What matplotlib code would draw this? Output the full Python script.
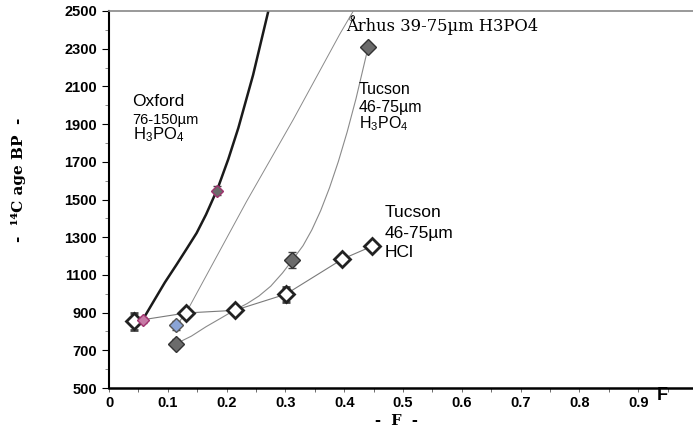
import matplotlib.pyplot as plt
from matplotlib.ticker import MultipleLocator

plt.rcParams['font.family'] = ['Liberation Sans', 'DejaVu Sans']
plt.rcParams['mathtext.default'] = 'regular'

# curves
oxford_cx = [0.057, 0.075, 0.095, 0.115, 0.132, 0.149, 0.165, 0.185, 0.203, 0.22, 0.245, 0.271]
oxford_cy = [860, 955, 1060, 1155, 1238, 1322, 1420, 1560, 1715, 1880, 2160, 2500]

aarhus_cx = [0.114, 0.131, 0.234, 0.313, 0.393, 0.4155]
aarhus_cy = [830, 898, 1490, 1922, 2380, 2500]

h3po4_cx = [0.114, 0.14, 0.165, 0.19, 0.214, 0.235, 0.255, 0.275, 0.295, 0.312, 0.33, 0.345,
            0.36, 0.375, 0.39, 0.405, 0.42, 0.441]
h3po4_cy = [735, 775, 825, 870, 914, 948, 988, 1040, 1110, 1179, 1255, 1339,
            1441, 1562, 1701, 1858, 2034, 2311]

# data points
hcl_x = [0.043, 0.131, 0.214, 0.301, 0.397, 0.448]
hcl_y = [855, 898, 912, 998, 1184, 1253]
hcl_err = [45, 15, 20, 40, 12, 12]

tuc_x = [0.114, 0.312, 0.441]
tuc_y = [735, 1179, 2311]
tuc_err = [25, 45, 10]

oxf_x = [0.057, 0.184]
oxf_y = [860, 1547]
oxf_err = [15, 22]

aar_x = [0.114]
aar_y = [832]
aar_err = [25]

fig = plt.figure(figsize=(6.93, 4.29), dpi=100)
ax = fig.add_axes([109 / 693, 1 - 388 / 429, 588 / 693, 377 / 429])

ax.plot(oxford_cx, oxford_cy, color='#1a1a1a', lw=1.8, zorder=2)
ax.plot(aarhus_cx, aarhus_cy, color='#8a8a8a', lw=0.7, zorder=1)
ax.plot([0.411], [2465], 'o', ms=3, mfc='white', mec='#777777', mew=0.6)
ax.plot(h3po4_cx, h3po4_cy, color='#8a8a8a', lw=0.8, zorder=1)
ax.plot(hcl_x, hcl_y, color='#7a7a7a', lw=0.8, zorder=1)

ax.errorbar(hcl_x, hcl_y, yerr=hcl_err, fmt='D', ms=8, mfc='white', mec='#222222', mew=2,
            ecolor='#444444', elinewidth=0.7, capsize=3, capthick=0.7, zorder=4)
ax.errorbar(tuc_x, tuc_y, yerr=tuc_err, fmt='D', ms=8.5, mfc='#6b6b6b', mec='#333333', mew=1,
            ecolor='#444444', elinewidth=0.7, capsize=3, capthick=0.7, zorder=4)
ax.errorbar(aar_x, aar_y, yerr=aar_err, fmt='D', ms=7, mfc='#8aa4d6', mec='#555555', mew=1,
            ecolor='#444444', elinewidth=0.7, capsize=3, capthick=0.7, zorder=4)
ax.errorbar(oxf_x[:1], oxf_y[:1], yerr=oxf_err[:1], fmt='D', ms=6, mfc='#c77aa6', mec='#a0336f', mew=1,
            ecolor='#a0336f', elinewidth=0.7, capsize=3, capthick=0.7, zorder=5)
ax.errorbar(oxf_x[1:], oxf_y[1:], yerr=oxf_err[1:], fmt='D', ms=6, mfc='#6b6b6b', mec='#a0336f', mew=1,
            ecolor='#444444', elinewidth=0.7, capsize=3, capthick=0.7, zorder=5)

ax.set_xlim(0, 1)
ax.set_ylim(500, 2500)
ax.set_xticks([0, 0.1, 0.2, 0.3, 0.4, 0.5, 0.6, 0.7, 0.8, 0.9])
ax.set_xticklabels(['0', '0.1', '0.2', '0.3', '0.4', '0.5', '0.6', '0.7', '0.8', '0.9'])
ax.xaxis.set_minor_locator(MultipleLocator(0.05))
ax.set_yticks(list(range(500, 2501, 200)))
ax.yaxis.set_minor_locator(MultipleLocator(100))
ax.tick_params(axis='x', which='both', direction='out', length=3, width=0.6, color='#555555', pad=3)
ax.tick_params(axis='y', which='major', direction='out', length=5, width=0.8)
ax.tick_params(axis='y', which='minor', direction='out', length=3, width=0.6, color='#777777')
for lab in ax.get_xticklabels() + ax.get_yticklabels():
    lab.set_fontweight('bold')
    lab.set_fontsize(10.5)
ax.spines['left'].set_linewidth(1.5)
ax.spines['bottom'].set_linewidth(1.8)
ax.spines['top'].set_color('#888888')
ax.spines['top'].set_linewidth(1.2)
ax.spines['right'].set_visible(False)

ax.text(0.04, 2020, 'Oxford', fontsize=12.5, va='center')
ax.text(0.04, 1924, '76-150µm', fontsize=10.5, va='center')
ax.text(0.04, 1845, 'H$_3$PO$_4$', fontsize=12, va='center')
ax.text(0.404, 2425, 'Århus 39-75µm H3PO4', family='DejaVu Serif', fontsize=11.8, va='center')
ax.text(0.425, 2086, 'Tucson', fontsize=11.5, va='center')
ax.text(0.425, 1990, '46-75µm', fontsize=11.5, va='center')
ax.text(0.425, 1900, 'H$_3$PO$_4$', fontsize=11.5, va='center')
ax.text(0.468, 1430, 'Tucson', fontsize=12.5, va='center')
ax.text(0.468, 1320, '46-75µm', fontsize=12.5, va='center')
ax.text(0.468, 1218, 'HCl', fontsize=12.5, va='center')

fig.text(662 / 693, 1 - 396 / 429, 'F', fontsize=13, fontweight='bold', ha='center', va='center')
fig.text(396 / 693, 1 - 421 / 429, '-  F  -', family='DejaVu Serif', fontsize=10.5,
         fontweight='bold', ha='center', va='center')
fig.text(19 / 693, 1 - 180 / 429, '-  ¹⁴C age BP  -', family='DejaVu Serif', fontsize=11,
         fontweight='bold', ha='center', va='center', rotation=90)

fig.savefig('out.png', dpi=100)
